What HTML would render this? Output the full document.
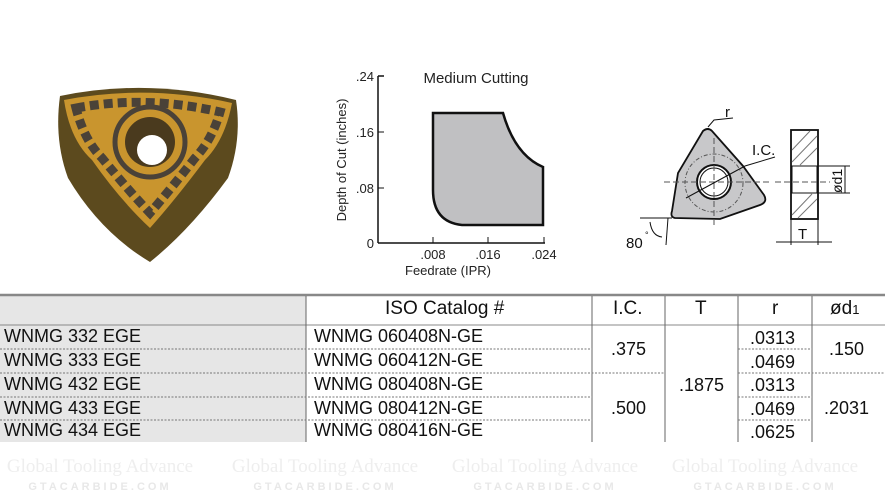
<!DOCTYPE html>
<html><head><style>
body{margin:0;background:#fff;width:885px;height:498px;overflow:hidden;position:relative;font-family:"Liberation Sans",sans-serif}
.t{position:absolute;font-family:"Liberation Sans",sans-serif;font-size:18px;color:#111;white-space:nowrap}
</style></head><body>
<svg width="885" height="498" style="position:absolute;left:0;top:0" font-family="Liberation Sans">
<!-- insert photo -->
<path d="M60,96 Q147,78 236,100 Q242,140 228,178 Q190,230 150,262 Q100,232 68,178 Q54,140 60,96 Z" fill="#5c4a1e"/>
<path d="M64,100 Q147,84 232,103 Q225,140 205,160 Q175,200 150,228 Q120,200 92,160 Q70,140 64,100 Z" fill="#c9952e"/>
<path d="M76,108 Q147,95 220,112 Q212,140 195,158 Q170,190 150,213 Q128,190 102,158 Q84,140 76,108 Z" fill="none" stroke="#4a4238" stroke-width="9" stroke-dasharray="9 5"/>
<circle cx="150" cy="142" r="35" fill="#c9952e" stroke="#4a4238" stroke-width="5"/>
<circle cx="150" cy="142" r="25" fill="#4a3a1e"/>
<circle cx="152" cy="150" r="15" fill="#fff"/>
<!-- chart -->
<polyline points="378,76 384,76" stroke="#111" stroke-width="1.5"/>
<line x1="378" y1="76" x2="378" y2="243" stroke="#111" stroke-width="1.5"/>
<line x1="378" y1="243" x2="545" y2="243" stroke="#111" stroke-width="1.5"/>
<line x1="378" y1="132" x2="384" y2="132" stroke="#111"/>
<line x1="378" y1="188" x2="384" y2="188" stroke="#111"/>
<line x1="433" y1="243" x2="433" y2="237" stroke="#111"/>
<line x1="488" y1="243" x2="488" y2="237" stroke="#111"/>
<line x1="544" y1="243" x2="544" y2="237" stroke="#111"/>
<path d="M433,113 L503,113 Q515,155 543,167 L543,225 L462,225 Q433,222 433,190 Z" fill="#c0c0c2" stroke="#111" stroke-width="2.5"/>
<g font-size="13" fill="#222" text-anchor="end">
<text x="374" y="81">.24</text><text x="374" y="137">.16</text><text x="374" y="193">.08</text><text x="374" y="248">0</text></g>
<g font-size="13" fill="#222" text-anchor="middle">
<text x="433" y="259">.008</text><text x="488" y="259">.016</text><text x="544" y="259">.024</text>
<text x="448" y="275">Feedrate (IPR)</text></g>
<text x="476" y="83" font-size="15" text-anchor="middle" fill="#222">Medium Cutting</text>
<text transform="translate(346,160) rotate(-90)" font-size="13" text-anchor="middle" fill="#222">Depth of Cut (inches)</text>
<!-- technical drawing -->
<path d="M703,131 Q708,127 712,131 L743,166 L764,195 Q768,202 760,205 L720,219 L675,218 Q670,217 672,211 L678,173 Z" fill="#c8c8ca" stroke="#111" stroke-width="1.8"/>
<circle cx="714" cy="183" r="29" fill="none" stroke="#555" stroke-dasharray="4 2 1 2"/>
<circle cx="714" cy="182" r="17" fill="#fff" stroke="#111" stroke-width="2"/>
<circle cx="714" cy="182" r="14" fill="#fff" stroke="#111" stroke-width="1"/>
<line x1="664" y1="182" x2="770" y2="182" stroke="#555" stroke-dasharray="6 3"/>
<line x1="714" y1="138" x2="714" y2="228" stroke="#555" stroke-dasharray="6 3"/>
<line x1="686" y1="198" x2="745" y2="166" stroke="#111"/><line x1="745" y1="166" x2="775" y2="157" stroke="#111"/>
<text x="752" y="155" font-size="15" fill="#111">I.C.</text>
<text x="725" y="117" font-size="15" fill="#111">r</text>
<polyline points="708,127 714,120 733,118" fill="none" stroke="#111"/>
<line x1="640" y1="218" x2="672" y2="218" stroke="#111"/><line x1="668" y1="218" x2="666" y2="245" stroke="#111"/>
<path d="M650,222 Q652,236 662,237" fill="none" stroke="#111"/>
<text x="626" y="248" font-size="15" fill="#111">80</text><text x="645" y="238" font-size="9" fill="#111">°</text>
<rect x="791" y="130" width="27" height="89" fill="#fff" stroke="#111" stroke-width="1.8"/>
<rect x="792" y="166" width="25" height="27" fill="#fff" stroke="#111"/>
<g stroke="#777"><line x1="792" y1="150" x2="810" y2="131"/><line x1="792" y1="162" x2="817" y2="136"/><line x1="800" y1="165" x2="817" y2="148"/><line x1="792" y1="215" x2="812" y2="194"/><line x1="798" y1="218" x2="817" y2="199"/></g>
<line x1="775" y1="182" x2="830" y2="182" stroke="#555" stroke-dasharray="6 3"/>
<line x1="818" y1="166" x2="850" y2="166" stroke="#111"/><line x1="818" y1="193" x2="850" y2="193" stroke="#111"/>
<line x1="845" y1="166" x2="845" y2="193" stroke="#111"/>
<text transform="translate(842,193) rotate(-90)" font-size="14" fill="#111">ød1</text>
<line x1="791" y1="219" x2="791" y2="245" stroke="#111"/><line x1="818" y1="219" x2="818" y2="245" stroke="#111"/>
<line x1="776" y1="242" x2="832" y2="242" stroke="#111"/>
<text x="798" y="239" font-size="15" fill="#111">T</text>
<!-- table -->
<rect x="0" y="295" width="306" height="147" fill="#e6e6e6"/>
<line x1="0" y1="295" x2="885" y2="295" stroke="#888" stroke-width="2.5"/>
<line x1="0" y1="325" x2="885" y2="325" stroke="#888" stroke-width="1"/>
<g stroke="#666" stroke-width="1">
<line x1="306" y1="296" x2="306" y2="442"/><line x1="592" y1="296" x2="592" y2="442"/>
<line x1="665" y1="296" x2="665" y2="442"/><line x1="738" y1="296" x2="738" y2="442"/><line x1="812" y1="296" x2="812" y2="442"/></g>
<g stroke="#777" stroke-dasharray="2 1.5" stroke-width="1">
<line x1="0" y1="349" x2="592" y2="349"/><line x1="0" y1="373" x2="665" y2="373"/>
<line x1="0" y1="397" x2="592" y2="397"/><line x1="0" y1="420" x2="592" y2="420"/>
<line x1="738" y1="349" x2="812" y2="349"/><line x1="738" y1="373" x2="885" y2="373"/>
<line x1="738" y1="397" x2="812" y2="397"/><line x1="738" y1="420" x2="812" y2="420"/></g>
<g fill="#eeeeee" font-family="Liberation Serif" font-size="19" text-anchor="middle">
<text x="100" y="472">Global Tooling Advance</text><text x="325" y="472">Global Tooling Advance</text><text x="545" y="472">Global Tooling Advance</text><text x="765" y="472">Global Tooling Advance</text></g>
<g fill="#e8e8e8" font-size="11" font-weight="bold" letter-spacing="3" text-anchor="middle">
<text x="100" y="490">GTACARBIDE.COM</text><text x="325" y="490">GTACARBIDE.COM</text><text x="545" y="490">GTACARBIDE.COM</text><text x="765" y="490">GTACARBIDE.COM</text></g>
</svg>
<div class="t" style="left:385px;top:298px;font-size:19px">ISO Catalog #</div>
<div class="t" style="left:613px;top:298px;font-size:19px">I.C.</div>
<div class="t" style="left:695px;top:298px;font-size:19px">T</div>
<div class="t" style="left:772px;top:298px;font-size:19px">r</div>
<div class="t" style="left:830px;top:298px;font-size:19px">ød<span style="font-size:13px">1</span></div>
<div class="t" style="left:4px;top:326px">WNMG 332 EGE</div>
<div class="t" style="left:4px;top:350px">WNMG 333 EGE</div>
<div class="t" style="left:4px;top:374px">WNMG 432 EGE</div>
<div class="t" style="left:4px;top:398px">WNMG 433 EGE</div>
<div class="t" style="left:4px;top:420px">WNMG 434 EGE</div>
<div class="t" style="left:314px;top:326px">WNMG 060408N-GE</div>
<div class="t" style="left:314px;top:350px">WNMG 060412N-GE</div>
<div class="t" style="left:314px;top:374px">WNMG 080408N-GE</div>
<div class="t" style="left:314px;top:398px">WNMG 080412N-GE</div>
<div class="t" style="left:314px;top:420px">WNMG 080416N-GE</div>
<div class="t" style="left:611px;top:339px">.375</div>
<div class="t" style="left:611px;top:398px">.500</div>
<div class="t" style="left:679px;top:375px">.1875</div>
<div class="t" style="left:829px;top:339px">.150</div>
<div class="t" style="left:824px;top:398px">.2031</div>
<div class="t" style="left:750px;top:328px">.0313</div>
<div class="t" style="left:750px;top:352px">.0469</div>
<div class="t" style="left:750px;top:375px">.0313</div>
<div class="t" style="left:750px;top:399px">.0469</div>
<div class="t" style="left:750px;top:422px">.0625</div>
</body></html>
